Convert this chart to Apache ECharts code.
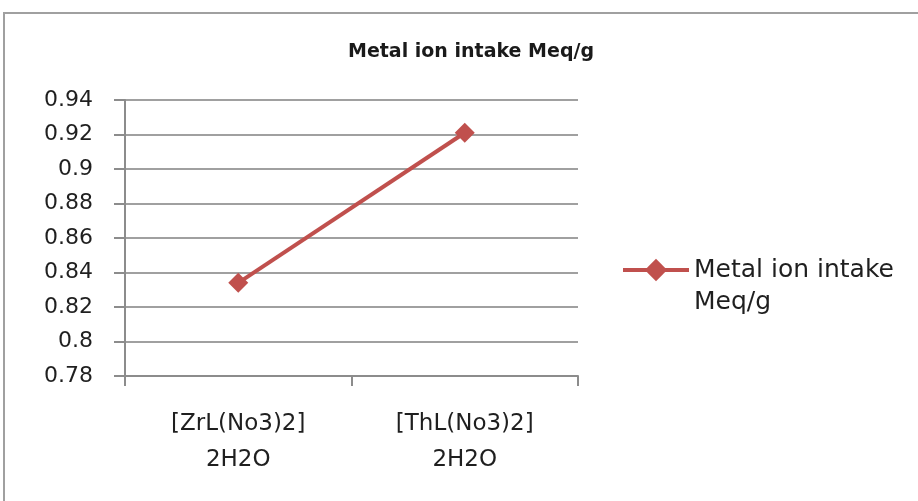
<!DOCTYPE html>
<html><head><meta charset="utf-8">
<script src="https://cdn.jsdelivr.net/npm/echarts@6/dist/echarts.min.js"></script>
<style>html,body{margin:0;padding:0;background:#fff}#c{width:918px;height:501px}</style>
</head><body><div id="c"></div>
<script>
const categories = ['[ZrL(No3)2]\n2H2O', '[ThL(No3)2]\n2H2O'];
const seriesName = 'Metal ion intake Meq/g';
const values = [0.834, 0.921];
const yMin = 0.78, yMax = 0.94, yStep = 0.02;

const chart = echarts.init(document.getElementById('c'));
chart.setOption({
  animation: false,
  backgroundColor: '#fff',
  title: {
    text: 'Metal ion intake Meq/g',
    left: 466, top: 38, textAlign: 'center',
    textStyle: { fontFamily: 'DejaVu Sans', fontWeight: 'bold', fontSize: 19, color: '#1a1a1a' }
  },
  graphic: [{
    type: 'rect', silent: true,
    shape: { x: 4, y: 13, width: 940, height: 520 },
    style: { fill: 'none', stroke: '#a0a0a0', lineWidth: 2 }
  }],
  grid: { left: 125, right: 340, top: 100, bottom: 125, containLabel: false },
  legend: {
    left: 621, top: 222, orient: 'vertical', padding: 0,
    itemWidth: 66, itemHeight: 28,
    formatter: () => ' \nMetal ion intake\nMeq/g',
    lineStyle: { width: 4 },
    textStyle: { fontFamily: 'DejaVu Sans', fontSize: 25, color: '#1f1f1f', lineHeight: 32 },
    data: [seriesName]
  },
  xAxis: {
    type: 'category', data: categories, boundaryGap: true,
    axisLine: { lineStyle: { color: '#8c8c8c', width: 2 } },
    axisTick: { show: true, length: 10, alignWithLabel: false, lineStyle: { color: '#8c8c8c', width: 2 } },
    axisLabel: { margin: 30, fontFamily: 'DejaVu Sans', fontSize: 23, color: '#1f1f1f', lineHeight: 36 },
    splitLine: { show: false }
  },
  yAxis: {
    type: 'value', min: yMin, max: yMax, interval: yStep,
    axisLine: { show: true, lineStyle: { color: '#8c8c8c', width: 2 } },
    axisTick: { show: true, length: 11, lineStyle: { color: '#8c8c8c', width: 2 } },
    axisLabel: { margin: 32, fontFamily: 'DejaVu Sans', fontSize: 22, color: '#1f1f1f',
      formatter: v => String(+v.toFixed(2)) },
    splitLine: { show: true, lineStyle: { color: '#a0a0a0', width: 2 } }
  },
  series: [{
    name: seriesName, type: 'line', data: values,
    symbol: 'diamond', symbolSize: 20,
    lineStyle: { color: '#C0504D', width: 4 },
    itemStyle: { color: '#C0504D' }
  }]
});
</script></body></html>
